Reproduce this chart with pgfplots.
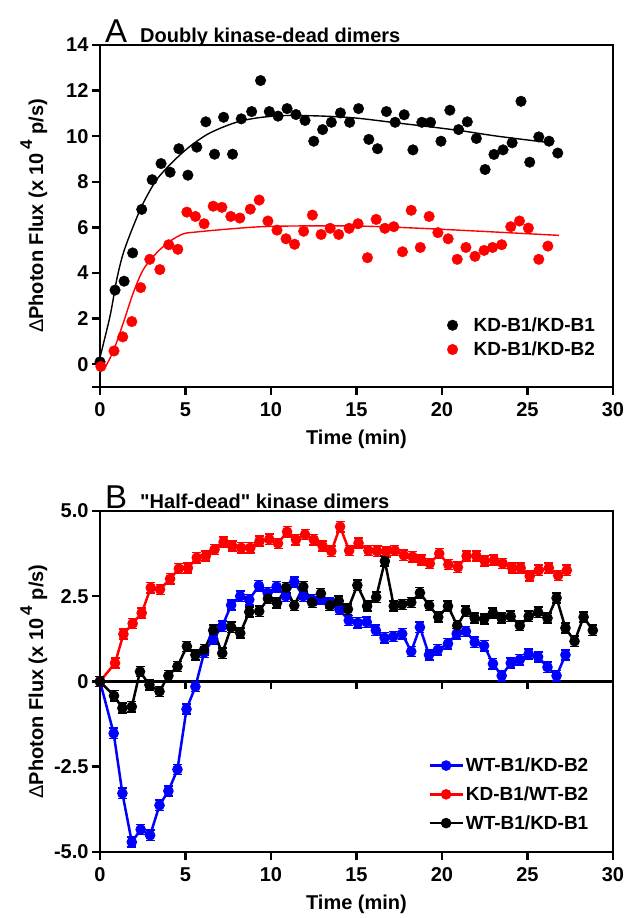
\documentclass[border=0pt]{standalone}
\usepackage{pgfplots}
\pgfplotsset{compat=1.18}
\usepackage{fontspec}
\setmainfont{Liberation Sans}[Ligatures=TeXOff]

\newcommand\lbl{\fontsize{20}{24}\selectfont\bfseries}
\newcommand\leg{\fontsize{19}{22}\selectfont\bfseries}
\newcommand\flux{{\mdseries Δ}Photon Flux (x 10\,\raisebox{0.55em}{\fontsize{17}{17}\selectfont 4} p/s)}

\pgfplotsset{
  panel/.style={
    scale only axis, width=513pt, clip=false,
    xmin=0, xmax=30, xtick={0,5,...,30},
    axis line style={line width=2.5pt},
    every tick/.style={line width=2.5pt, black},
    tick align=outside, major tick length=8pt,
    xtick pos=left, ytick pos=left,
    tick label style={font=\lbl},
    xticklabel style={yshift=-4pt},
    /pgf/number format/assume math mode=true,
    xlabel={Time (min)},
    ylabel={\flux},
    every axis y label/.style={at={(axis description cs:-0.129,0.5)}, rotate=90, anchor=center, font=\lbl},
    every axis x label/.style={at={(axis description cs:0.5,-0.152)}, anchor=center, font=\lbl},
  },
  linleg/.style={legend image code/.code={\draw[##1] (0pt,0pt) -- (33pt,0pt); \draw[##1, only marks] plot coordinates {(16.5pt,0pt)};}},
  ebar/.style={line width=2.5pt, mark=*, mark size=4pt,
    error bars/.cd, y dir=both, y fixed=0.15,
    error bar style={line width=1.5pt, solid},
    error mark options={rotate=90, mark size=4.5pt, line width=1.5pt}},
}

\begin{document}
\begin{tikzpicture}
\useasboundingbox (-100pt,-66pt) rectangle (527pt,852pt);

% panel A
\begin{axis}[panel, at={(0pt,465pt)}, height=342pt,
  ymin=-1, ymax=14, ytick={0,2,...,14},
  extra y ticks={-1}, extra y tick labels={},
  legend image code/.code={\path[draw=none, fill=none] (-6pt,-5pt) rectangle (19pt,5pt); \draw[#1] plot coordinates {(0pt,0pt)};},
  legend style={draw=none, fill=none, font=\leg, at={(axis description cs:0.975,0.075)},
    anchor=south east, row sep=5pt, legend cell align=left}]
\addplot[black, line width=1.4pt, smooth, forget plot] coordinates {
(0,0.3) (0.59,2.12) (0.98,3.72) (1.37,4.89) (1.95,6.06) (2.54,7.08) (3.32,8.10)
(4.30,8.91) (5.27,9.56) (6.25,10.07) (7.23,10.41) (8.20,10.66) (9.18,10.80)
(10.15,10.88) (11.13,10.91) (13.08,10.88) (15.04,10.79) (17.38,10.58) (19.33,10.41)
(21.29,10.22) (23.24,10.0) (26.24,9.72)};
\addplot[red, line width=1.4pt, smooth, forget plot] coordinates {
(0,-0.1) (0.2,-0.25) (0.78,0.58) (1.37,1.83) (1.95,3.14) (2.54,4.16) (3.32,4.89)
(4.10,5.40) (4.88,5.72) (5.66,5.80) (7.23,5.91) (9.18,6.02) (11.13,6.06)
(15.04,6.06) (19.33,5.94) (26.85,5.65)};
\addplot[only marks, mark=*, mark size=5.3pt, black] coordinates {
(0,0.1) (0.88,3.25) (1.41,3.64) (1.91,4.88) (2.44,6.79) (3.05,8.09) (3.57,8.80)
(4.10,8.42) (4.61,9.45) (5.14,8.29) (5.66,9.52) (6.19,10.63) (6.70,9.21)
(7.23,10.83) (7.75,9.21) (8.26,10.76) (8.87,11.08) (9.39,12.44) (9.90,11.08)
(10.41,10.88) (10.94,11.21) (11.46,10.95) (11.99,10.69) (12.50,9.78) (13.02,10.29)
(13.53,10.61) (14.06,11.02) (14.60,10.61) (15.12,11.21) (15.72,9.86) (16.23,9.45)
(16.75,11.08) (17.26,10.61) (17.79,10.94) (18.30,9.40) (18.82,10.61) (19.33,10.61)
(19.94,9.78) (20.46,11.14) (20.97,10.29) (21.48,10.63) (22.01,9.90) (22.52,8.54)
(23.04,9.20) (23.57,9.40) (24.10,9.71) (24.62,11.53) (25.13,8.86) (25.66,9.97)
(26.26,9.78) (26.77,9.26)};
\addplot[only marks, mark=*, mark size=5.3pt, red] coordinates {
(0.05,-0.1) (0.82,0.58) (1.33,1.20) (1.86,1.87) (2.38,3.36) (2.91,4.60) (3.50,4.15)
(4.02,5.24) (4.55,5.04) (5.08,6.67) (5.58,6.48) (6.09,6.16) (6.62,6.93) (7.13,6.88)
(7.65,6.48) (8.18,6.41) (8.79,6.80) (9.31,7.20) (9.82,6.28) (10.35,5.88) (10.88,5.50)
(11.38,5.26) (11.91,5.83) (12.42,6.54) (12.93,5.69) (13.46,5.96) (13.96,5.69)
(14.57,5.96) (15.09,6.16) (15.64,4.67) (16.15,6.35) (16.66,5.96) (17.18,6.03)
(17.69,4.93) (18.20,6.75) (18.73,5.12) (19.25,6.48) (19.76,5.77) (20.36,5.50)
(20.89,4.60) (21.40,5.12) (21.93,4.73) (22.46,4.99) (22.96,5.12) (23.49,5.24)
(24.02,6.03) (24.53,6.28) (25.05,5.97) (25.66,4.60) (26.19,5.18)};
\legend{KD-B1/KD-B1,KD-B1/KD-B2}
\node[anchor=base west, inner sep=0, font=\fontsize{33}{36}\selectfont] at (axis description cs:0.0097,1.006) {A};
\node[anchor=base west, inner sep=0, font=\lbl] at (axis description cs:0.078,1.006) {Doubly kinase-dead dimers};
\end{axis}

% panel B
\begin{axis}[panel, at={(0pt,0pt)}, height=341pt,
  ymin=-5, ymax=5, ytick={-5,-2.5,0,2.5,5}, yticklabels={-5.0,-2.5,0,2.5,5.0},
  legend style={draw=none, fill=none, font=\leg, at={(axis description cs:0.962,0.05)},
    anchor=south east, row sep=9.5pt, legend cell align=left}]
\draw[line width=2.5pt] (axis cs:0,0) -- (axis cs:30,0);
\pgfplotsinvokeforeach{5,10,15,20,25}{\draw[line width=2.5pt] (axis cs:#1,0) -- ++(0pt,-8pt);}
\addplot[blue, linleg, ebar] coordinates {
(0,0) (0.80,-1.52) (1.31,-3.28) (1.86,-4.71) (2.38,-4.34) (2.93,-4.51) (3.48,-3.63)
(4.00,-3.21) (4.53,-2.58) (5.06,-0.81) (5.58,-0.15) (6.09,0.85) (6.62,1.25) (7.15,1.62)
(7.67,2.24) (8.20,2.50) (8.73,2.40) (9.29,2.81) (9.80,2.60) (10.33,2.78) (10.86,2.50)
(11.36,2.92) (11.88,2.50) (12.40,2.40) (12.92,2.42) (13.45,2.30) (14.00,2.11)
(14.55,1.79) (15.08,1.72) (15.60,1.74) (16.13,1.50) (16.64,1.28) (17.15,1.32)
(17.67,1.40) (18.20,0.88) (18.71,1.59) (19.24,0.78) (19.76,0.93) (20.35,1.11)
(20.86,1.40) (21.40,1.47) (21.91,1.15) (22.46,1.05) (22.98,0.52) (23.49,0.17)
(24.02,0.54) (24.55,0.64) (25.07,0.81) (25.62,0.72) (26.17,0.42) (26.70,0.17) (27.22,0.78)};
\addplot[red, linleg, ebar] coordinates {
(0,0) (0.88,0.54) (1.37,1.39) (1.91,1.70) (2.44,2.01) (2.97,2.75) (3.51,2.70)
(4.10,3.01) (4.61,3.31) (5.14,3.33) (5.66,3.63) (6.19,3.68) (6.70,3.87) (7.23,4.09)
(7.73,3.97) (8.26,3.92) (8.79,3.92) (9.33,4.12) (9.90,4.17) (10.41,4.05) (10.94,4.39)
(11.46,4.16) (11.99,4.31) (12.50,4.16) (13.02,3.97) (13.53,3.82) (14.04,4.54)
(14.57,3.84) (15.12,4.06) (15.70,3.84) (16.21,3.82) (16.73,3.80) (17.24,3.84)
(17.77,3.70) (18.28,3.66) (18.79,3.56) (19.29,3.46) (19.84,3.75) (20.37,3.43)
(20.93,3.35) (21.44,3.68) (22.01,3.68) (22.50,3.53) (23.04,3.56) (23.55,3.46)
(24.10,3.33) (24.60,3.33) (25.13,3.09) (25.66,3.26) (26.25,3.33) (26.79,3.11) (27.30,3.26)};
\addplot[black, linleg, ebar] coordinates {
(0,0) (0.82,-0.42) (1.31,-0.78) (1.86,-0.74) (2.34,0.29) (2.89,-0.10) (3.48,-0.29)
(4.00,0.17) (4.53,0.44) (5.08,1.03) (5.58,0.78) (6.09,0.93) (6.62,1.50) (7.15,0.83)
(7.67,1.59) (8.20,1.42) (8.73,2.04) (9.31,2.06) (9.82,2.43) (10.35,2.30) (10.88,2.75)
(11.36,2.23) (11.89,2.78) (12.40,2.32) (12.92,2.58) (13.45,2.23) (13.96,2.36)
(14.50,2.12) (15.05,2.82) (15.62,2.21) (16.15,2.47) (16.66,3.53) (17.18,2.21)
(17.67,2.26) (18.20,2.32) (18.71,2.60) (19.25,2.23) (19.78,1.89) (20.35,2.21)
(20.89,1.64) (21.40,2.06) (21.91,1.86) (22.46,1.83) (22.98,2.01) (23.49,1.86)
(24.02,1.91) (24.55,1.64) (25.07,1.91) (25.62,2.03) (26.17,1.86) (26.70,2.45)
(27.22,1.57) (27.75,1.18) (28.28,1.89) (28.82,1.50)};
\legend{WT-B1/KD-B2,KD-B1/WT-B2,WT-B1/KD-B1}
\node[anchor=base west, inner sep=0, font=\fontsize{33}{36}\selectfont] at (axis description cs:0.0097,1.006) {B};
\node[anchor=base west, inner sep=0, font=\lbl] at (axis description cs:0.078,1.006) {"Half-dead" kinase dimers};
\end{axis}
\end{tikzpicture}
\end{document}
